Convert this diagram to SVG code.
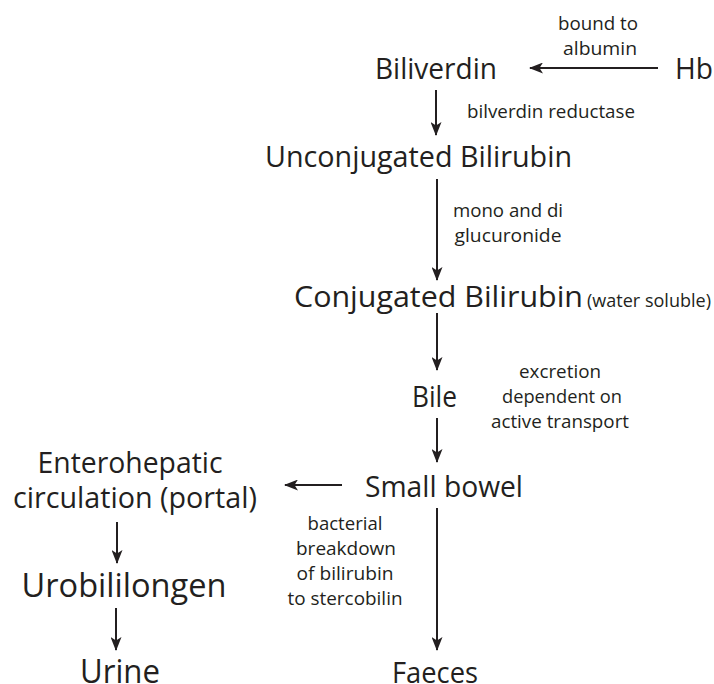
<svg xmlns="http://www.w3.org/2000/svg" width="714" height="684" viewBox="0 0 714 684">
<style>
text{font-family:"Open Sans","Noto Sans","Liberation Sans",sans-serif;fill:#231f20}
.big{font-size:28.5px}
.lg{font-size:32px}
.sm{font-size:18.5px}
.c{text-anchor:middle}
.conn line{stroke:#231f20;stroke-width:2;marker-end:url(#ah)}
</style>
<defs>
<marker id="ah" viewBox="0 0 14 11" refX="13" refY="5.5" markerWidth="14" markerHeight="11" markerUnits="userSpaceOnUse" orient="auto">
<path d="M0,0 L14,5.5 L0,11 L3.5,5.5 Z" fill="#231f20"/>
</marker>
</defs>
<rect width="714" height="684" fill="#fff"/>
<g class="conn">
<line x1="658" y1="68" x2="530" y2="68"/>
<line x1="436" y1="90" x2="436" y2="135"/>
<line x1="437" y1="179" x2="437" y2="280"/>
<line x1="437" y1="313" x2="437" y2="370"/>
<line x1="437" y1="418" x2="437" y2="462"/>
<line x1="342" y1="485" x2="285" y2="485"/>
<line x1="117" y1="522" x2="117" y2="563"/>
<line x1="116" y1="608" x2="116" y2="650"/>
<line x1="437" y1="508" x2="437" y2="650"/>
</g>
<g id="hb"><text class="big" x="675" y="79" textLength="38" lengthAdjust="spacingAndGlyphs">Hb</text></g>
<g id="lbl-albumin"><text class="sm c" x="598" y="30" textLength="80" lengthAdjust="spacingAndGlyphs">bound to</text><text class="sm c" x="600" y="55" textLength="74" lengthAdjust="spacingAndGlyphs">albumin</text></g>
<g id="biliverdin"><text class="big" x="375" y="79" textLength="122" lengthAdjust="spacingAndGlyphs">Biliverdin</text></g>
<g id="lbl-reductase"><text class="sm" x="467" y="118" textLength="168" lengthAdjust="spacingAndGlyphs">bilverdin reductase</text></g>
<g id="unconjugated"><text class="big" x="265" y="167" textLength="307" lengthAdjust="spacingAndGlyphs">Unconjugated Bilirubin</text></g>
<g id="lbl-glucuronide"><text class="sm c" x="508" y="217" textLength="110" lengthAdjust="spacingAndGlyphs">mono and di</text><text class="sm c" x="508" y="242" textLength="107" lengthAdjust="spacingAndGlyphs">glucuronide</text></g>
<g id="conjugated"><text class="big" x="294" y="307" textLength="289" lengthAdjust="spacingAndGlyphs">Conjugated Bilirubin</text><text class="sm" x="587" y="307" textLength="124" lengthAdjust="spacingAndGlyphs">(water soluble)</text></g>
<g id="bile"><text class="big" x="412" y="407" textLength="45" lengthAdjust="spacingAndGlyphs">Bile</text></g>
<g id="lbl-excretion"><text class="sm c" x="560" y="378" textLength="82" lengthAdjust="spacingAndGlyphs">excretion</text><text class="sm c" x="562" y="403" textLength="120" lengthAdjust="spacingAndGlyphs">dependent on</text><text class="sm c" x="560" y="428" textLength="138" lengthAdjust="spacingAndGlyphs">active transport</text></g>
<g id="small-bowel"><text class="big" x="365" y="497" textLength="158" lengthAdjust="spacingAndGlyphs">Small bowel</text></g>
<g id="enterohepatic"><text class="big c" x="130" y="473" textLength="185" lengthAdjust="spacingAndGlyphs">Enterohepatic</text><text class="big c" x="135" y="508" textLength="244" lengthAdjust="spacingAndGlyphs">circulation (portal)</text></g>
<g id="lbl-bacterial"><text class="sm c" x="345" y="530" textLength="75" lengthAdjust="spacingAndGlyphs">bacterial</text><text class="sm c" x="346" y="555" textLength="100" lengthAdjust="spacingAndGlyphs">breakdown</text><text class="sm c" x="345" y="580" textLength="97" lengthAdjust="spacingAndGlyphs">of bilirubin</text><text class="sm c" x="345" y="605" textLength="115" lengthAdjust="spacingAndGlyphs">to stercobilin</text></g>
<g id="urobililongen"><text class="lg c" x="124" y="597" textLength="205" lengthAdjust="spacingAndGlyphs">Urobililongen</text></g>
<g id="urine"><text class="lg c" x="120" y="683" textLength="80" lengthAdjust="spacingAndGlyphs">Urine</text></g>
<g id="faeces"><text class="big c" x="435" y="683" textLength="86" lengthAdjust="spacingAndGlyphs">Faeces</text></g>
</svg>
